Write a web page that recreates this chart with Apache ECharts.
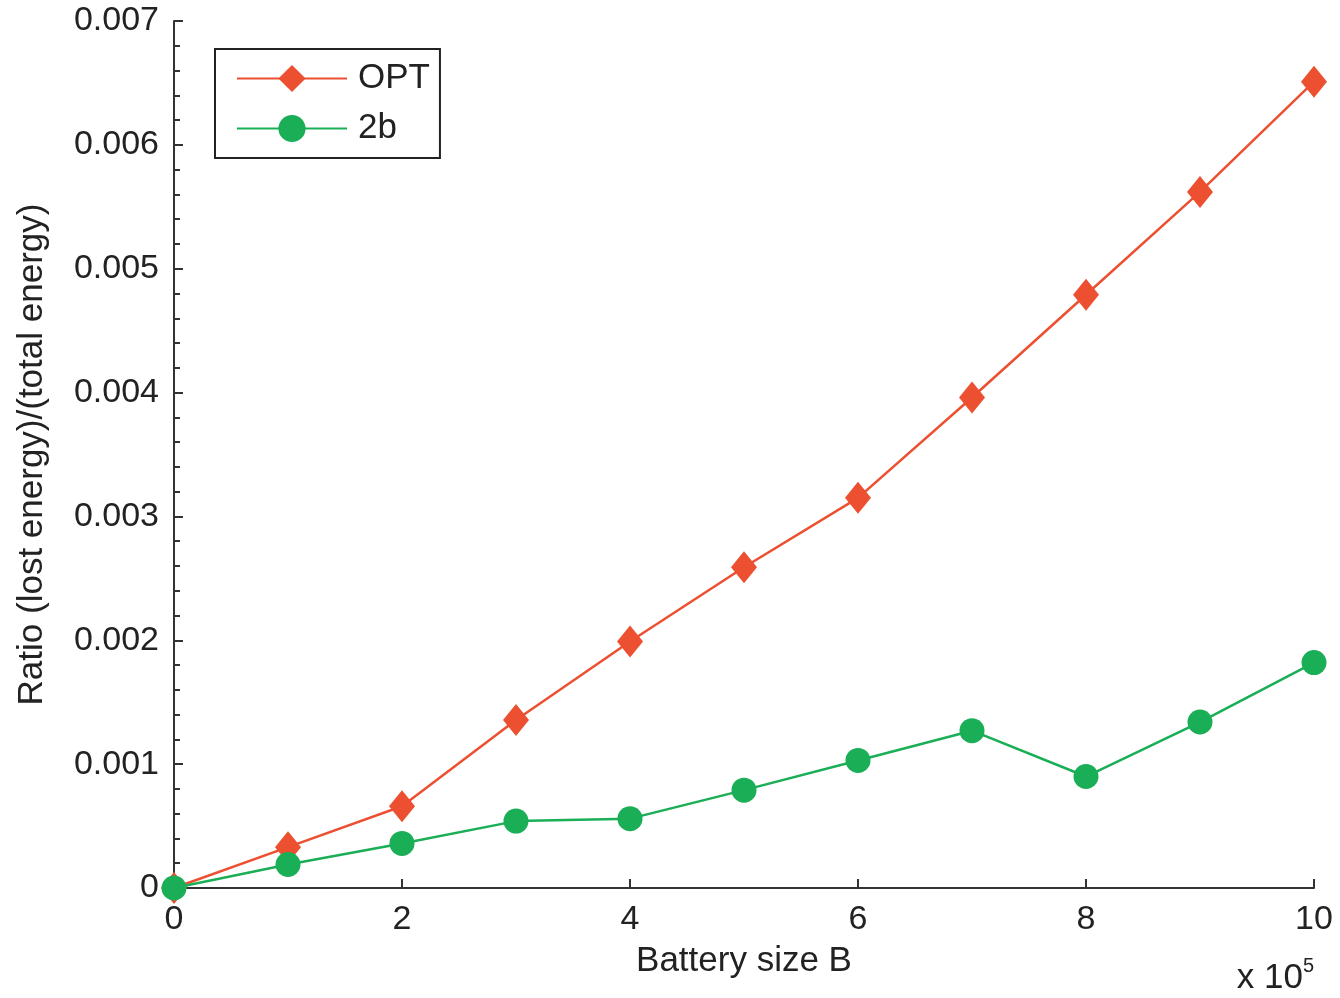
<!DOCTYPE html>
<html>
<head>
<meta charset="utf-8">
<script src="https://cdn.jsdelivr.net/npm/echarts@6/dist/echarts.min.js"></script>
<style>
  html, body { margin: 0; padding: 0; background: #fff; }
  #main { width: 1340px; height: 998px; }
</style>
</head>
<body>
<div id="main"></div>
<script>
// battery size (x 10^5)
var batterySize = [0, 1, 2, 3, 4, 5, 6, 7, 8, 9, 10];
// ratio (lost energy)/(total energy)
var optValues = [0, 0.00033, 0.00066, 0.001356, 0.00199, 0.00259, 0.00315, 0.00396, 0.00479, 0.00562, 0.00651];
var twoBValues = [0, 0.00019, 0.00036, 0.00054, 0.00056, 0.00079, 0.00103, 0.00127, 0.0009, 0.00134, 0.00182];

var FONT = "Liberation Sans";

function pairs(xs, ys) {
  return xs.map(function (x, i) { return [x, ys[i]]; });
}

var chart = echarts.init(document.getElementById("main"));
chart.setOption({
  animation: false,
  backgroundColor: "#fff",
  textStyle: { fontFamily: FONT },
  grid: { left: 174, right: 26, top: 21, bottom: 110 },
  legend: {
    left: 215,
    top: 49,
    orient: "vertical",
    padding: [12, 10, 12, 21],
    borderColor: "#222",
    borderWidth: 2,
    itemWidth: 110,
    itemHeight: 34,
    itemGap: 15,
    itemTextGap: 10,
    textStyle: { fontSize: 35, color: "#222", fontFamily: FONT, padding: [0, 0, 0, 6] },
    data: ["OPT", "2b"]
  },
  xAxis: {
    type: "value",
    min: 0,
    max: 10,
    interval: 2,
    name: "Battery size B",
    nameLocation: "middle",
    nameGap: 56,
    nameTextStyle: { fontSize: 35, color: "#222", fontFamily: FONT },
    axisLine: { onZero: false, lineStyle: { color: "#333", width: 2 } },
    axisTick: { inside: true, length: 9, lineStyle: { color: "#333", width: 2 } },
    axisLabel: { fontSize: 34, color: "#222", margin: 15, fontFamily: FONT },
    splitLine: { show: false }
  },
  yAxis: {
    type: "value",
    min: 0,
    max: 0.007,
    interval: 0.001,
    name: "Ratio (lost energy)/(total energy)",
    nameLocation: "middle",
    nameGap: 124,
    nameTextStyle: { fontSize: 35, color: "#222", fontFamily: FONT },
    axisLine: { show: true, lineStyle: { color: "#333", width: 2 } },
    axisTick: { inside: true, length: 9, lineStyle: { color: "#333", width: 2 } },
    minorTick: { show: true, splitNumber: 5, length: 6, lineStyle: { color: "#333", width: 2 } },
    axisLabel: {
      fontSize: 34,
      color: "#222",
      margin: 15,
      fontFamily: FONT,
      formatter: function (v) {
        return v === 0 ? "0" : v.toFixed(3);
      }
    },
    splitLine: { show: false }
  },
  series: [
    {
      name: "OPT",
      type: "line",
      data: pairs(batterySize, optValues),
      symbol: "diamond",
      symbolSize: [26, 32],
      color: "#ec5030",
      lineStyle: { width: 2.5, color: "#ec5030" },
      itemStyle: { color: "#ec5030" }
    },
    {
      name: "2b",
      type: "line",
      data: pairs(batterySize, twoBValues),
      symbol: "circle",
      symbolSize: 25,
      color: "#1aae56",
      lineStyle: { width: 2.5, color: "#1aae56" },
      itemStyle: { color: "#1aae56" }
    }
  ],
  graphic: [
    {
      type: "text",
      right: 26,
      top: 956,
      style: {
        text: "{a|x 10}{b|5}",
        rich: {
          a: { fontSize: 35, fontFamily: FONT, fill: "#222", verticalAlign: "bottom" },
          b: { fontSize: 20, fontFamily: FONT, fill: "#222", verticalAlign: "top", padding: [0, 0, 20, 0] }
        }
      }
    }
  ]
});
</script>
</body>
</html>
